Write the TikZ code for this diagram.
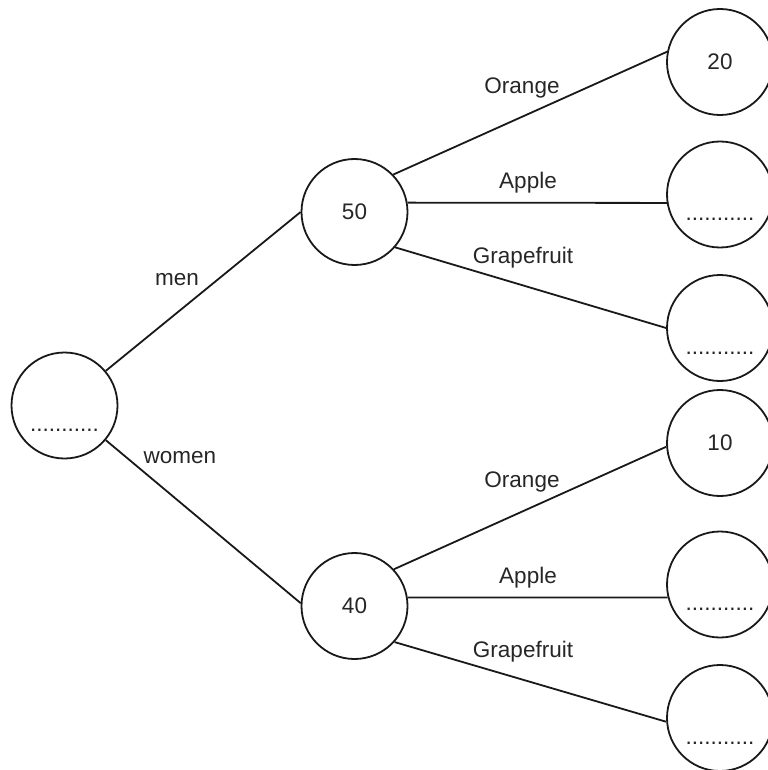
\documentclass[tikz,border=0pt]{standalone}
\usepackage{fontspec}
\setmainfont{Liberation Sans}

\begin{document}
\begin{tikzpicture}[x=0.5pt, y=-0.5pt,
		every node/.style={font=\fontsize{11.25}{13.5}\selectfont, text=black!85},
		ball/.style={draw=black!90, circle, line width=0.9pt, minimum size=53pt, inner sep=0pt},
		blank/.style={ball, label={[yshift=-12.5pt]center:...........}},
		edge/.style={draw=black!90, line width=0.9pt}]
		%%%%% START %%%%%
		
		\useasboundingbox (0, 0) rectangle (767, 770);
		
		\node[blank] (root) at (64.5, 405.5) {};
		\node[ball] (n50) at (354.5, 212) {50};
		\node[ball] (n40) at (354.5, 606) {40};
		
		\node[ball] (o1) at (720, 62) {20};
		\node[blank] (o2) at (720, 194.5) {};
		\node[blank] (o3) at (720, 328) {};
		\node[ball] (o4) at (720, 443) {10};
		\node[blank] (o5) at (720, 584.5) {};
		\node[blank] (o6) at (720, 718) {};
		
		\draw[edge] (root.40) -- (n50.180);
		\draw[edge] (root.-40) -- (n40.177);
		
		\draw[edge] (n50.44) -- (o1.169);
		\draw[edge] (n50.10) -- (o2.189);
		\draw[edge] (n50.-41) -- (o3.180);
		
		\draw[edge] (n40.43) -- (o4.184);
		\draw[edge] (n40.9) -- (o5.194);
		\draw[edge] (n40.-42) -- (o6.184);
		
		\node (lmen) at (177, 280) {men};
		\node (lwomen) at (180, 458) {women};
		
		\node (lor1) at (522, 88) {Orange};
		\node (lap1) at (528, 183) {Apple};
		\node (lgr1) at (523, 258) {Grapefruit};
		
		\node (lor2) at (522, 482) {Orange};
		\node (lap2) at (528, 578) {Apple};
		\node (lgr2) at (523, 652) {Grapefruit};
		
		%%%%% END %%%%%
\end{tikzpicture}
\end{document}
